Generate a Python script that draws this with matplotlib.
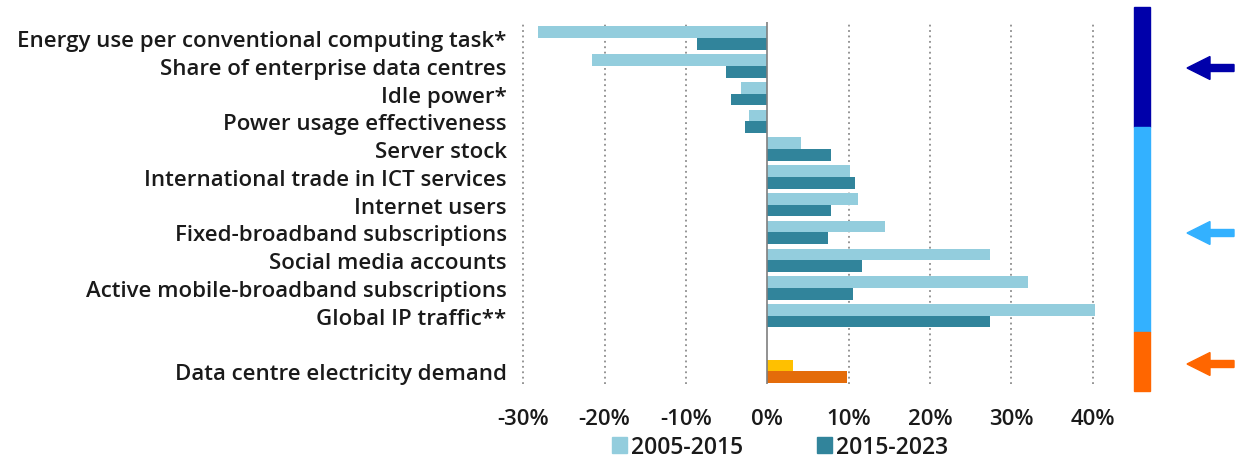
import numpy as np
import matplotlib.pyplot as plt
from matplotlib.patches import Rectangle, Polygon

plt.rcParams['font.family'] = ['Open Sans', 'DejaVu Sans']
plt.rcParams['font.weight'] = 'semibold'

# data (annual growth rates, %)
categories = [
    'Energy use per conventional computing task*',
    'Share of enterprise data centres',
    'Idle power*',
    'Power usage effectiveness',
    'Server stock',
    'International trade in ICT services',
    'Internet users',
    'Fixed-broadband subscriptions',
    'Social media accounts',
    'Active mobile-broadband subscriptions',
    'Global IP traffic**',
    'Data centre electricity demand',
]
growth_2005_2015 = [-28.2, -21.6, -3.2, -2.3, 4.2, 10.2, 11.1, 14.4, 27.4, 32.0, 40.3, 3.1]
growth_2015_2023 = [-8.6, -5.1, -4.4, -2.8, 7.8, 10.8, 7.8, 7.5, 11.6, 10.5, 27.4, 9.8]
series_labels = ['2005-2015', '2015-2023']
xticks = [-30, -20, -10, 0, 10, 20, 30, 40]

W, H = 1243, 460
fig = plt.figure(figsize=(W / 100, H / 100), dpi=100)

# axes placed in pixels: x -31..41, y rows -0.58..12.46
ax = fig.add_axes([515 / W, 1 - 385 / H, 586 / W, (385 - 23) / H])

# last category is separated by an empty row
ypos = np.array(list(range(11)) + [12])
bh = 0.42
light = ['#93cddd'] * 11 + ['#ffc000']
dark = ['#31849b'] * 11 + ['#e46c0a']
ax.barh(ypos - bh / 2, growth_2005_2015, height=bh, color=light, label=series_labels[0], zorder=3)
ax.barh(ypos + bh / 2, growth_2015_2023, height=bh, color=dark, label=series_labels[1], zorder=3)

ax.set_xlim(-31, 41)
ax.set_ylim(12.46, -0.58)
ax.set_xticks(xticks)
ax.set_xticklabels([f'{t}%' for t in xticks], fontsize=16, color='#1a1a1a')
ax.set_yticks(ypos)
ax.set_yticklabels(categories, fontsize=16, color='#1a1a1a')
ax.tick_params(length=0)
ax.tick_params(axis='y', pad=6)
ax.tick_params(axis='x', pad=17)
for s in ax.spines.values():
    s.set_visible(False)
for t in xticks:
    if t == 0:
        ax.axvline(0, color='#7f7f7f', lw=1.2, zorder=4)
    else:
        ax.axvline(t, color='#8c8c8c', lw=1.3, ls=(0, (1, 2)), zorder=1)

# legend with the blue shades
h = [Rectangle((0, 0), 1, 1, color='#93cddd'), Rectangle((0, 0), 1, 1, color='#31849b')]
fig.legend(h, series_labels, loc='center', bbox_to_anchor=(780 / W, 1 - 448 / H), ncol=2,
           frameon=False, fontsize=16.5, handlelength=0.65, handleheight=0.65,
           handletextpad=0.2, columnspacing=3.2, labelcolor='#1a1a1a')


def fx(px):
    return px / W


def fy(py):
    return 1 - py / H


# coloured side bar
side = [(8, 128, '#0000aa'), (128, 333, '#33b1ff'), (333, 392, '#ff6600')]
for top, bot, c in side:
    fig.patches.append(Rectangle((fx(1134), fy(bot)), fx(1150) - fx(1134), fy(top) - fy(bot),
                                 color=c, transform=fig.transFigure))

# arrows pointing left
for yc, c in [(69, '#0000aa'), (234, '#33b1ff'), (365, '#ff6600')]:
    pts = [(1187, yc), (1210, yc - 11.5), (1210, yc - 3.5), (1234, yc - 3.5),
           (1234, yc + 3.5), (1210, yc + 3.5), (1210, yc + 11.5)]
    fig.patches.append(Polygon([(fx(x), fy(y)) for x, y in pts], closed=True, color=c,
                               transform=fig.transFigure))

fig.savefig('out.png', dpi=100)
